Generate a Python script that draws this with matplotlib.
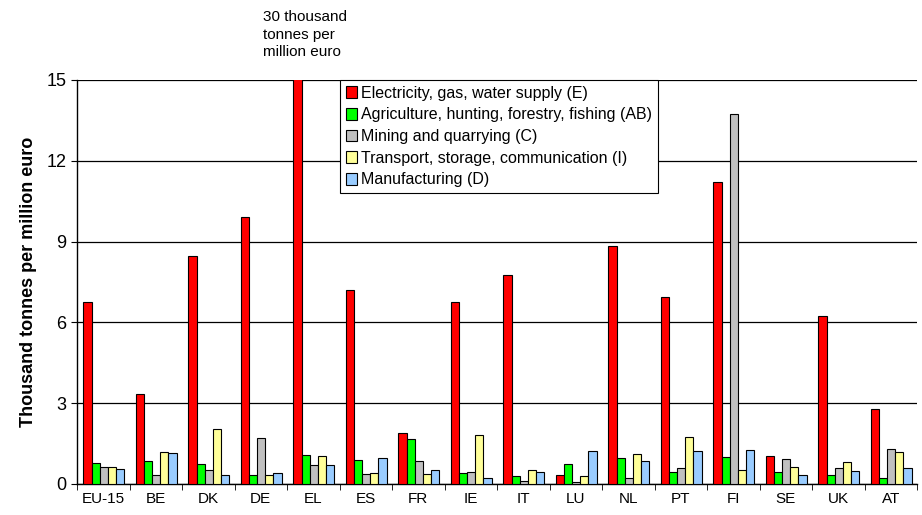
import matplotlib.pyplot as plt
import numpy as np

countries = ["EU-15", "BE", "DK", "DE", "EL", "ES", "FR", "IE", "IT", "LU",
             "NL", "PT", "FI", "SE", "UK", "AT"]

electricity = [6.77, 3.36, 8.46, 9.90, 30.0, 7.19, 1.89, 6.75, 7.77, 0.35,
               8.85, 6.94, 11.22, 1.03, 6.25, 2.77]
agriculture = [0.79, 0.84, 0.74, 0.35, 1.07, 0.88, 1.66, 0.40, 0.29, 0.73,
               0.98, 0.43, 0.99, 0.45, 0.32, 0.22]
mining = [0.63, 0.32, 0.53, 1.70, 0.69, 0.36, 0.87, 0.43, 0.10, 0.07,
          0.22, 0.58, 13.73, 0.93, 0.61, 1.29]
transport = [0.63, 1.19, 2.03, 0.32, 1.03, 0.40, 0.36, 1.82, 0.51, 0.29,
             1.12, 1.73, 0.53, 0.64, 0.81, 1.20]
manufacturing = [0.55, 1.15, 0.35, 0.41, 0.69, 0.95, 0.53, 0.22, 0.43, 1.23,
                 0.86, 1.21, 1.26, 0.32, 0.47, 0.58]

series = [
    ("Electricity, gas, water supply (E)", electricity, "#FF0000"),
    ("Agriculture, hunting, forestry, fishing (AB)", agriculture, "#00FF00"),
    ("Mining and quarrying (C)", mining, "#C0C0C0"),
    ("Transport, storage, communication (I)", transport, "#FFFF99"),
    ("Manufacturing (D)", manufacturing, "#99CCFF"),
]

plt.rcParams["font.family"] = ["Liberation Sans", "DejaVu Sans"]

fig = plt.figure(figsize=(9.22, 5.15), dpi=100)
ax = fig.add_axes([77 / 922, 31 / 515, 840 / 922, 404 / 515])

x = np.arange(len(countries))
w = 0.155
for i, (label, vals, color) in enumerate(series):
    ax.bar(x + (i - 2) * w + 0.01, vals, width=w, color=color, edgecolor="black",
           linewidth=0.8, label=label, zorder=3)

ax.set_xlim(-0.5, len(countries) - 0.5)
ax.set_ylim(0, 15)
ax.set_yticks([0, 3, 6, 9, 12, 15])
ax.yaxis.grid(True, color="black", linewidth=0.9, zorder=0)
ax.set_xticks(x)
ax.set_xticklabels(countries, fontsize=11)
ax.set_xticks(np.arange(len(countries) + 1) - 0.5, minor=True)
ax.tick_params(axis="x", which="major", length=0, pad=6)
ax.tick_params(axis="x", which="minor", length=4, direction="out")
ax.tick_params(axis="y", labelsize=13, length=4, direction="out")
for s in ["top", "right"]:
    ax.spines[s].set_visible(False)
ax.spines["left"].set_linewidth(1.0)
ax.spines["bottom"].set_linewidth(1.0)

ax.set_ylabel("Thousand tonnes per million euro", fontsize=13, fontweight="bold", labelpad=7)

leg = ax.legend(loc="upper left", bbox_to_anchor=(0.313, 1.0), fontsize=11.5,
                frameon=True, fancybox=False, edgecolor="black", framealpha=1,
                handlelength=0.75, handleheight=0.75, handletextpad=0.25,
                labelspacing=0.42, borderpad=0.35, borderaxespad=0)
leg.get_frame().set_linewidth(0.8)
leg.set_zorder(5)

fig.text(263 / 922, 1 - 10 / 515, "30 thousand\ntonnes per\nmillion euro",
         fontsize=11, va="top", ha="left", linespacing=1.32)

fig.savefig("out.png", dpi=100)
